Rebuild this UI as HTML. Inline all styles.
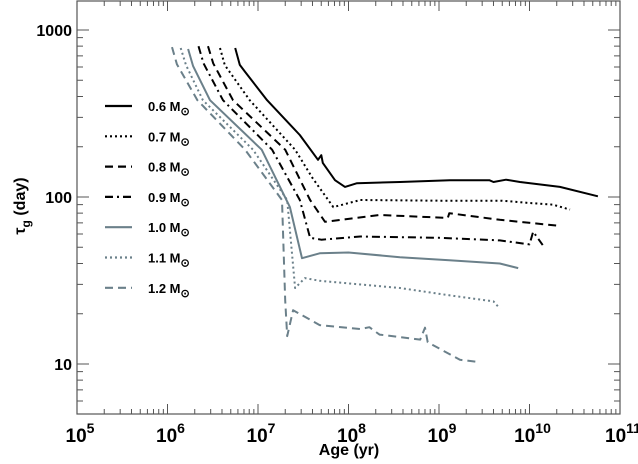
<!DOCTYPE html>
<html><head><meta charset="utf-8"><style>
html,body{margin:0;padding:0;background:#fff;}
svg{display:block;font-family:"Liberation Sans",sans-serif;font-weight:bold;}
</style></head><body>
<svg id="chart" width="638" height="464" viewBox="0 0 638 464">
<g id="axes"></g><g id="series"></g><g id="legend"></g>
<text x="349" y="455" font-size="16" text-anchor="middle">Age (yr)</text>
<text transform="translate(25,206) rotate(-90)" font-size="16" text-anchor="middle">τ<tspan font-size="12" dy="5">g</tspan><tspan dy="-5"> (day)</tspan></text>
</svg>
<script>
const masses = ["0.6","0.7","0.8","0.9","1.0","1.1","1.2"];
const ages06 = [5.6e6,6.3e6,7.2e6,1.26e7,2.9e7,4.6e7,5.0e7,5.2e7,7.1e7,9.15e7,1.24e8,3.7e8,1.32e9,3.6e9,4.0e9,5.5e9,7.85e9,2.17e10,5.7e10];
const tau06  = [780,618,561,380,235,167,178,160,126,115,121,123,126,126,123,127,123,115,101];
const ages07 = [3.8e6,4.3e6,8.1e6,2.57e7,4.0e7,6.8e7,1.35e8,1.0e9,5.0e9,1.0e10,1.8e10,2.8e10];
const tau07  = [780,616,380,192,130,87,96,95,95,92,90,84];
const ages08 = [2.8e6,3.2e6,5.3e6,2.0e7,3.76e7,5.5e7,2.2e8,1.25e9,1.3e9,4.7e9,2.2e10];
const tau08  = [800,632,380,192,96,71,78,75,80,73,67];
const ages09 = [2.2e6,2.5e6,4.1e6,1.43e7,2.9e7,3.76e7,5.0e7,1.35e8,1.0e9,4.7e9,1.0e10,1.1e10,1.4e10];
const tau09  = [800,632,380,192,96,57,55.5,58,57,55,52,62,51.5];
const ages10 = [1.69e6,1.92e6,2.95e6,1.1e7,2.25e7,3.06e7,4.8e7,1.0e8,3.7e8,1.3e9,4.7e9,7.5e9];
const tau10  = [770,608,380,192,87,43,46,46.5,43.6,41.8,40,37.5];
const ages11 = [1.4e6,1.6e6,2.46e6,8.8e6,2.1e7,2.57e7,3.3e7,4.8e7,3.7e8,1.3e9,4.0e9,4.7e9];
const tau11  = [780,616,380,192,96,28.5,32.7,31.5,28.5,25.8,23.7,21.5];
const ages12 = [1.12e6,1.27e6,2.14e6,7.2e6,1.84e7,2.0e7,2.1e7,2.44e7,4.8e7,1.35e8,1.7e8,2.2e8,6.2e8,7.0e8,7.5e8,1.7e9,2.7e9];
const tau12  = [790,624,380,192,96,24,14.7,21,17.1,16.2,16.6,15,14,16.5,13.5,10.6,10.3];
const xTickLabels = ["5","6","7","8","9","10","11"];
const yTickLabels = ["10","100","1000"];

const NS="http://www.w3.org/2000/svg";
const X0=77,X1=620,Y0=1,Y1=414;
const xs=a=>X0+(Math.log10(a)-5)*90.5;
const ys=t=>30+(3-Math.log10(t))*167;
function mk(tag,attrs,parent){const e=document.createElementNS(NS,tag);for(const k in attrs)e.setAttribute(k,attrs[k]);parent.appendChild(e);return e;}
const axes=document.getElementById('axes');
let fr=mk('rect',{x:X0,y:Y0,width:X1-X0,height:Y1-Y0,fill:'none',stroke:'#555','stroke-width':1.2},axes);


let tk="";
for(let d=5;d<=11;d++){for(let m=1;m<=9;m++){const v=Math.pow(10,d)*m;if(d==11&&m>1)break;const x=xs(v);const L=m==1?10:5;tk+=`M${x} ${Y1}v${-L}M${x} ${Y0}v${L}`;}}
for(let d=0;d<=3;d++){for(let m=1;m<=9;m++){const v=Math.pow(10,d)*m;const y=ys(v);if(y<Y0||y>Y1)continue;const L=m==1?12:6;tk+=`M${X0} ${y}h${L}M${X1} ${y}h${-L}`;}}
let tp=mk('path',{d:tk,stroke:'#555','stroke-width':1,fill:'none'},axes);


xTickLabels.forEach((e,i)=>{const x=xs(Math.pow(10,+e));const t=mk('text',{x:x+3,y:442,'font-size':19,'text-anchor':'middle'},axes);


t.innerHTML=`10<tspan font-size="14" dy="-9">${e}</tspan>`;});
yTickLabels.forEach(l=>{const t=mk('text',{x:72,y:ys(+l)+6,'font-size':16,'text-anchor':'end'},axes);


t.textContent=l;});
const grey="#6b808a";
const styles=[["#000",""],["#000","2,3"],["#000","8,5"],["#000","8,4,2,4"],[grey,""],[grey,"2,3"],[grey,"8,5"]];
const ages=[ages06,ages07,ages08,ages09,ages10,ages11,ages12];
const taus=[tau06,tau07,tau08,tau09,tau10,tau11,tau12];
const ser=document.getElementById('series'),leg=document.getElementById('legend');
ages.forEach((A,i)=>{const d=A.map((a,j)=>(j?'L':'M')+xs(a).toFixed(1)+' '+ys(taus[i][j]).toFixed(1)).join('');
const p=mk('path',{d:d,fill:'none',stroke:styles[i][0],'stroke-width':2,'stroke-dasharray':styles[i][1],'stroke-linejoin':'round'},ser);


const y=106+i*30.3;
const g=mk('g',{},leg);


mk('line',{x1:105,x2:132,y1:y,y2:y,stroke:styles[i][0],'stroke-width':2.2,'stroke-dasharray':styles[i][1]},g);
const t=mk('text',{x:148,y:y+5,'font-size':13},g);
t.innerHTML=masses[i]+' M<tspan font-size="11" dy="4">⊙</tspan>';});
</script>
</body></html>
